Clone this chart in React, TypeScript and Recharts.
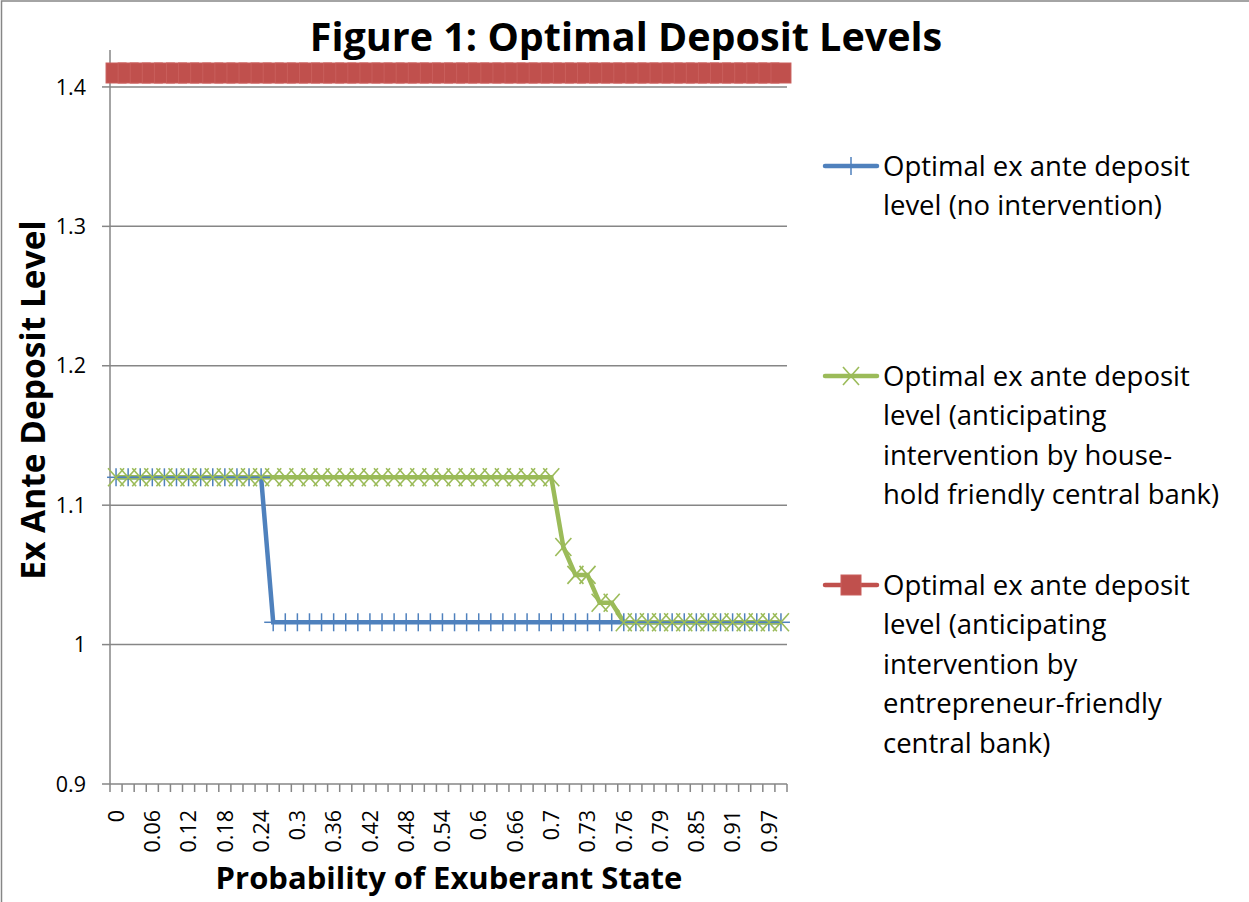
import { LineChart, Line, XAxis, YAxis, ReferenceLine } from 'recharts';

const W = 1249;
const H = 902;
const PLOT_LEFT = 110;
const PLOT_RIGHT = 787;
const PLOT_TOP = 50;
const PLOT_BOTTOM = 784;

const BLUE = '#4F81BD';
const GREEN = '#9BBB59';
const RED = '#C0504D';
const AXIS = '#868686';
const FONT = '"Open Sans", "Noto Sans", sans-serif';

// probability of exuberant state (x categories)
const probabilities = [
  '0', '0.02', '0.04', '0.06', '0.08', '0.1', '0.12', '0.14', '0.16', '0.18',
  '0.2', '0.22', '0.24', '0.26', '0.28', '0.3', '0.32', '0.34', '0.36', '0.38',
  '0.4', '0.42', '0.44', '0.46', '0.48', '0.5', '0.52', '0.54', '0.56', '0.58',
  '0.6', '0.62', '0.64', '0.66', '0.68', '0.69', '0.7', '0.71', '0.72', '0.73',
  '0.74', '0.75', '0.76', '0.77', '0.78', '0.79', '0.81', '0.83', '0.85', '0.87',
  '0.89', '0.91', '0.93', '0.95', '0.97', '0.99',
];

const noIntervention = [
  1.12, 1.12, 1.12, 1.12, 1.12, 1.12, 1.12, 1.12, 1.12, 1.12,
  1.12, 1.12, 1.12, 1.016, 1.016, 1.016, 1.016, 1.016, 1.016, 1.016,
  1.016, 1.016, 1.016, 1.016, 1.016, 1.016, 1.016, 1.016, 1.016, 1.016,
  1.016, 1.016, 1.016, 1.016, 1.016, 1.016, 1.016, 1.016, 1.016, 1.016,
  1.016, 1.016, 1.016, 1.016, 1.016, 1.016, 1.016, 1.016, 1.016, 1.016,
  1.016, 1.016, 1.016, 1.016, 1.016, 1.016,
];

const householdFriendly = [
  1.12, 1.12, 1.12, 1.12, 1.12, 1.12, 1.12, 1.12, 1.12, 1.12,
  1.12, 1.12, 1.12, 1.12, 1.12, 1.12, 1.12, 1.12, 1.12, 1.12,
  1.12, 1.12, 1.12, 1.12, 1.12, 1.12, 1.12, 1.12, 1.12, 1.12,
  1.12, 1.12, 1.12, 1.12, 1.12, 1.12, 1.12, 1.07, 1.05, 1.05,
  1.03, 1.03, 1.016, 1.016, 1.016, 1.016, 1.016, 1.016, 1.016, 1.016,
  1.016, 1.016, 1.016, 1.016, 1.016, 1.016,
];

const entrepreneurFriendly = [
  1.41, 1.41, 1.41, 1.41, 1.41, 1.41, 1.41, 1.41, 1.41, 1.41,
  1.41, 1.41, 1.41, 1.41, 1.41, 1.41, 1.41, 1.41, 1.41, 1.41,
  1.41, 1.41, 1.41, 1.41, 1.41, 1.41, 1.41, 1.41, 1.41, 1.41,
  1.41, 1.41, 1.41, 1.41, 1.41, 1.41, 1.41, 1.41, 1.41, 1.41,
  1.41, 1.41, 1.41, 1.41, 1.41, 1.41, 1.41, 1.41, 1.41, 1.41,
  1.41, 1.41, 1.41, 1.41, 1.41, 1.41,
];

const yTicks = [0.9, 1, 1.1, 1.2, 1.3, 1.4];

const legendItems = [
  { key: 'none', color: BLUE, marker: 'plus', y: 166, lines: ['Optimal ex ante deposit', 'level (no intervention)'] },
  {
    key: 'house', color: GREEN, marker: 'x', y: 376,
    lines: ['Optimal ex ante deposit', 'level (anticipating', 'intervention by house-', 'hold friendly central bank)'],
  },
  {
    key: 'entre', color: RED, marker: 'square', y: 585,
    lines: ['Optimal ex ante deposit', 'level (anticipating', 'intervention by', 'entrepreneur-friendly', 'central bank)'],
  },
];

const data = probabilities.map((p, i) => ({
  p,
  none: noIntervention[i],
  house: householdFriendly[i],
  entre: entrepreneurFriendly[i],
}));

const BAND = (PLOT_RIGHT - PLOT_LEFT) / probabilities.length;

function Marker({ kind, cx, cy, color }: { kind: string; cx: number; cy: number; color: string }) {
  if (kind === 'plus') {
    return (
      <g>
        <line x1={cx - 9} y1={cy} x2={cx + 9} y2={cy} stroke={color} strokeWidth={1.5} />
        <line x1={cx} y1={cy - 9} x2={cx} y2={cy + 9} stroke={color} strokeWidth={1.5} />
      </g>
    );
  }
  if (kind === 'x') {
    return (
      <g>
        <line x1={cx - 8} y1={cy - 9} x2={cx + 8} y2={cy + 9} stroke={color} strokeWidth={1.6} />
        <line x1={cx - 8} y1={cy + 9} x2={cx + 8} y2={cy - 9} stroke={color} strokeWidth={1.6} />
      </g>
    );
  }
  return <rect x={cx - 10} y={cy - 10} width={20} height={20} fill={color} stroke="#C95F5C" strokeWidth={1} />;
}

const makeDot = (kind: string, color: string) => (props: any) => {
  if (props.cx == null || props.cy == null) return <g key={props.index} />;
  return <Marker key={props.index} kind={kind} cx={props.cx} cy={props.cy} color={color} />;
};

function XTick(props: any) {
  const { x, y, payload, index } = props;
  const last = index === probabilities.length - 1;
  return (
    <g>
      <line x1={x - BAND / 2} y1={y} x2={x - BAND / 2} y2={y + 8} stroke={AXIS} strokeWidth={1.5} />
      {last && <line x1={x + BAND / 2} y1={y} x2={x + BAND / 2} y2={y + 8} stroke={AXIS} strokeWidth={1.5} />}
      {index % 3 === 0 && (
        <text
          transform={`translate(${x},${y + 26}) rotate(-90)`}
          textAnchor="end"
          dy="0.36em"
          fontSize={21.5}
          fill="#000"
          fontFamily={FONT}
        >
          {payload.value}
        </text>
      )}
    </g>
  );
}

export default function App() {
  return (
    <div style={{ position: 'absolute', left: 0, top: 0, width: W, height: H, background: '#fff', fontFamily: FONT }}>
      <LineChart
        width={W}
        height={H}
        data={data}
        margin={{ top: PLOT_TOP, right: W - PLOT_RIGHT, bottom: 0, left: 0 }}
      >
        {yTicks.slice(1).map((t) => (
          <ReferenceLine key={t} y={t} stroke={AXIS} strokeWidth={1.5} />
        ))}
        <XAxis
          dataKey="p"
          type="category"
          scale="band"
          interval={0}
          height={H - PLOT_BOTTOM}
          tickSize={0}
          tickMargin={0}
          tickLine={false}
          axisLine={{ stroke: AXIS, strokeWidth: 1.5 }}
          tick={<XTick />}
        />
        <YAxis
          type="number"
          domain={[0.9, 1.4265]}
          ticks={yTicks}
          width={PLOT_LEFT}
          tickSize={8}
          tickMargin={16}
          tickLine={{ stroke: AXIS, strokeWidth: 1.5 }}
          axisLine={{ stroke: AXIS, strokeWidth: 1.5 }}
          tick={{ fontSize: 21.5, fill: '#000', fontFamily: FONT }}
        />
        <Line
          dataKey="none"
          stroke={BLUE}
          strokeWidth={4.5}
          dot={makeDot('plus', BLUE)}
          activeDot={false}
          isAnimationActive={false}
        />
        <Line
          dataKey="house"
          stroke={GREEN}
          strokeWidth={4.5}
          dot={makeDot('x', GREEN)}
          activeDot={false}
          isAnimationActive={false}
        />
        <Line
          dataKey="entre"
          stroke={RED}
          strokeWidth={4.5}
          dot={makeDot('square', RED)}
          activeDot={false}
          isAnimationActive={false}
        />
      </LineChart>
      <svg
        width={W}
        height={H}
        style={{ position: 'absolute', left: 0, top: 0, pointerEvents: 'none' }}
        fontFamily={FONT}
      >
        <rect x={1.5} y={1} width={W + 10} height={H + 10} fill="none" stroke={AXIS} strokeWidth={1.5} />
        <text x={626} y={51} textAnchor="middle" fontSize={39.5} fontWeight="bold" fill="#000">
          Figure 1: Optimal Deposit Levels
        </text>
        <text x={449} y={889} textAnchor="middle" fontSize={31} fontWeight="bold" fill="#000">
          Probability of Exuberant State
        </text>
        <text transform="translate(45,400) rotate(-90)" textAnchor="middle" fontSize={33.5} fontWeight="bold" fill="#000">
          Ex Ante Deposit Level
        </text>
        {legendItems.map((item) => (
          <g key={item.key}>
            <line x1={825} y1={item.y} x2={877} y2={item.y} stroke={item.color} strokeWidth={4.5} strokeLinecap="round" />
            <Marker kind={item.marker} cx={851} cy={item.y} color={item.color} />
            {item.lines.map((ln, j) => (
              <text key={j} x={883} y={item.y + 10 + j * 39.4} fontSize={27.5} fill="#000">
                {ln}
              </text>
            ))}
          </g>
        ))}
      </svg>
    </div>
  );
}
